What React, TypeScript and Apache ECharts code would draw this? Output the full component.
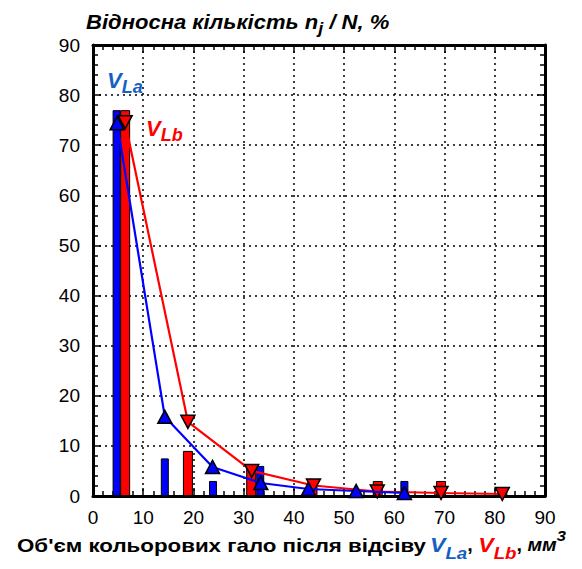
import React, { useEffect, useRef } from "react";
import * as echarts from "echarts";

// X ticks / Y ticks
const xTicks = [0, 10, 20, 30, 40, 50, 60, 70, 80, 90];
const yTicks = [0, 10, 20, 30, 40, 50, 60, 70, 80, 90];

// Bars: [volume, percent]
const barsLa: [number, number][] = [
  [4.7, 77], [14.3, 7.5], [23.9, 3], [33.3, 6], [62, 3],
];
const barsLb: [number, number][] = [
  [6.4, 77], [18.9, 9], [31.5, 6], [43.7, 2.8], [56.7, 3], [69.3, 3], [81.5, 1.2],
];

// Lines with markers: [volume, percent]
const lineLa: [number, number][] = [
  [4.8, 74.4], [14.3, 15.8], [23.8, 5.8], [33.4, 2.6], [42.9, 1.4], [52.4, 1.0], [62, 0.6],
];
const lineLb: [number, number][] = [
  [6.4, 74.6], [18.9, 14.8], [31.6, 5.0], [43.9, 2.1], [56.6, 0.9], [69.3, 0.6], [81.5, 0.4],
];

const FONT = "'Liberation Sans', Arial, sans-serif";
const BLUE = "#0000ff";
const RED = "#ff0000";
const TXT_BLUE = "#1560c4";

export default function App() {
  const ref = useRef<HTMLDivElement>(null);
  useEffect(() => {
    if (!ref.current) return;
    const chart = echarts.init(ref.current, undefined, { renderer: "svg" });
    const minX = xTicks[0], maxX = xTicks[xTicks.length - 1];
    const minY = yTicks[0], maxY = yTicks[yTicks.length - 1];
    const axisCommon = {
      type: "value" as const,
      interval: 10,
      axisLine: { show: true, onZero: false, lineStyle: { color: "#000", width: 3 } },
      axisTick: { show: true, inside: true, length: 8, lineStyle: { color: "#000", width: 1.5 } },
      minorTick: { show: true, splitNumber: 5, length: 5, lineStyle: { color: "#000", width: 1.5 } },
    };
    const mainLabel = { show: true, fontSize: 19, color: "#000", fontFamily: FONT, margin: 12 };
    const split = { show: true, lineStyle: { type: [2, 4] as any, color: "#000", width: 1.5 } };
    const bi = { fontWeight: "bold", fontStyle: "italic", fontFamily: FONT };
    chart.setOption({
      animation: false,
      backgroundColor: "#fff",
      grid: { left: 93, right: 37, top: 45, bottom: 73, containLabel: false },
      xAxis: [
        { ...axisCommon, position: "bottom", min: minX, max: maxX, axisLabel: mainLabel, splitLine: split },
        { ...axisCommon, position: "top", min: minX, max: maxX, axisLabel: { show: false }, splitLine: { show: false } },
        { type: "value", show: false, min: minX, max: maxX },
        { type: "value", show: false, min: minX, max: maxX },
      ],
      yAxis: [
        { ...axisCommon, position: "left", min: minY, max: maxY, axisLabel: { ...mainLabel, margin: 13 }, splitLine: split },
        { ...axisCommon, position: "right", min: minY, max: maxY, axisLabel: { show: false }, splitLine: { show: false } },
      ],
      series: [
        {
          type: "bar", xAxisIndex: 2, yAxisIndex: 0, data: barsLa, barWidth: 8, z: 2,
          itemStyle: { color: BLUE, borderColor: "#000", borderWidth: 1 },
        },
        {
          type: "bar", xAxisIndex: 3, yAxisIndex: 0, data: barsLb, barWidth: 10, z: 2,
          itemStyle: { color: RED, borderColor: "#000", borderWidth: 1 },
        },
        {
          type: "line", xAxisIndex: 0, yAxisIndex: 0, data: lineLa, z: 5,
          symbol: "triangle", symbolSize: [14, 13],
          lineStyle: { color: BLUE, width: 2.2 },
          itemStyle: { color: BLUE, borderColor: "#000", borderWidth: 1.5 },
        },
        {
          type: "line", xAxisIndex: 0, yAxisIndex: 0, data: lineLb, z: 4,
          symbol: "triangle", symbolRotate: 180, symbolSize: [14, 13],
          lineStyle: { color: RED, width: 2.2 },
          itemStyle: { color: RED, borderColor: "#000", borderWidth: 1.5 },
        },
      ],
      graphic: [
        {
          type: "text", x: 86, y: 7, scaleX: 1.13, z: 10,
          style: {
            text: "{a|Відносна кількість n}{s|j}{a| / N, %}",
            align: "left", verticalAlign: "top",
            rich: {
              a: { ...bi, fontSize: 19.5, lineHeight: 30, verticalAlign: "middle", fill: "#000" },
              s: { ...bi, fontSize: 16, lineHeight: 30, verticalAlign: "bottom", fill: "#000" },
            },
          },
        },
        {
          type: "text", x: 17, y: 537, scaleX: 1.24, z: 10,
          style: {
            text: "Об'єм кольорових гало після відсіву",
            align: "left", verticalAlign: "top",
            fontSize: 18, fontWeight: "bold", fontFamily: FONT, fill: "#000",
          },
        },
        {
          type: "text", x: 430, y: 528, scaleX: 1.1, z: 10,
          style: {
            text: "{b|V}{bs|La}{k|, }{r|V}{rs|Lb}{k|, }{m|мм}{sup|3}",
            align: "left", verticalAlign: "top",
            rich: {
              k: { fontSize: 18, fontWeight: "bold", fontFamily: FONT, lineHeight: 34, verticalAlign: "middle", fill: "#000" },
              m: { ...bi, fontSize: 18, lineHeight: 34, verticalAlign: "middle", fill: "#000" },
              b: { ...bi, fontSize: 21, lineHeight: 34, verticalAlign: "middle", fill: TXT_BLUE },
              bs: { ...bi, fontSize: 17, lineHeight: 34, verticalAlign: "bottom", fill: TXT_BLUE },
              r: { ...bi, fontSize: 21, lineHeight: 34, verticalAlign: "middle", fill: RED },
              rs: { ...bi, fontSize: 17, lineHeight: 34, verticalAlign: "bottom", fill: RED },
              sup: { ...bi, fontSize: 15, lineHeight: 34, verticalAlign: "top", fill: "#000" },
            },
          },
        },
        {
          type: "text", x: 107, y: 64, z: 10,
          style: {
            text: "{v|V}{s|La}",
            align: "left", verticalAlign: "top",
            rich: {
              v: { ...bi, fontSize: 22, lineHeight: 32, verticalAlign: "middle", fill: TXT_BLUE },
              s: { ...bi, fontSize: 18, lineHeight: 32, verticalAlign: "bottom", fill: TXT_BLUE },
            },
          },
        },
        {
          type: "text", x: 146, y: 112, z: 10,
          style: {
            text: "{v|V}{s|Lb}",
            align: "left", verticalAlign: "top",
            rich: {
              v: { ...bi, fontSize: 22, lineHeight: 32, verticalAlign: "middle", fill: RED },
              s: { ...bi, fontSize: 18, lineHeight: 32, verticalAlign: "bottom", fill: RED },
            },
          },
        },
      ],
    });
    return () => chart.dispose();
  }, []);
  return (
    <div
      ref={ref}
      style={{ position: "fixed", left: 0, top: 0, width: 582, height: 569, background: "#fff" }}
    />
  );
}
